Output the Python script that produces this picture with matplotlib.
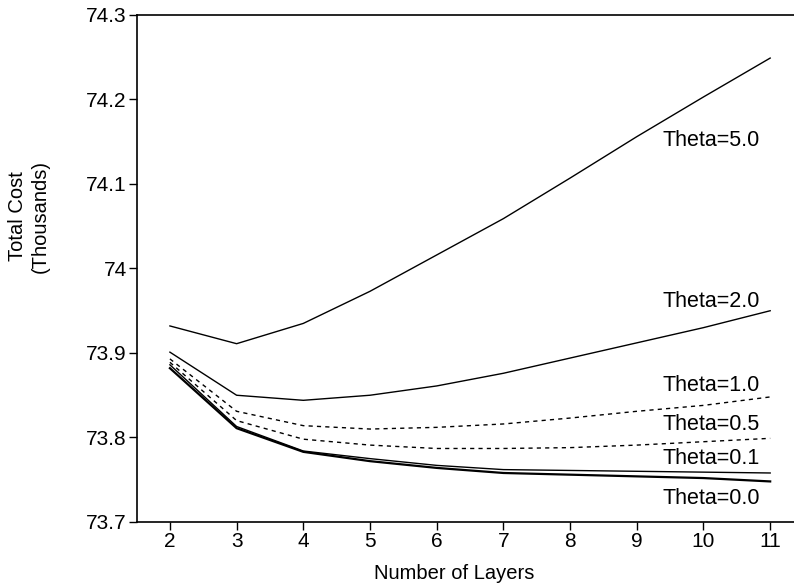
import numpy as np
import matplotlib
matplotlib.use("Agg")
import matplotlib.pyplot as plt

plt.rcParams['font.family'] = ['Liberation Sans', 'DejaVu Sans']

layers = [2, 3, 4, 5, 6, 7, 8, 9, 10, 11]
theta_names = ["Theta=5.0", "Theta=2.0", "Theta=1.0", "Theta=0.5", "Theta=0.1", "Theta=0.0"]
theta_5 = [73.932, 73.911, 73.935, 73.973, 74.016, 74.059, 74.107, 74.156, 74.203, 74.249]
theta_2 = [73.901, 73.850, 73.844, 73.850, 73.861, 73.876, 73.894, 73.912, 73.930, 73.950]
theta_1 = [73.893, 73.831, 73.814, 73.810, 73.812, 73.816, 73.823, 73.831, 73.838, 73.848]
theta_05 = [73.889, 73.820, 73.798, 73.791, 73.787, 73.787, 73.788, 73.791, 73.795, 73.799]
theta_01 = [73.886, 73.813, 73.784, 73.775, 73.767, 73.762, 73.761, 73.760, 73.759, 73.758]
theta_0 = [73.882, 73.811, 73.783, 73.772, 73.764, 73.758, 73.756, 73.754, 73.752, 73.748]
y_ticks = [73.7, 73.8, 73.9, 74.0, 74.1, 74.2, 74.3]
y_tick_labels = ["73.7", "73.8", "73.9", "74", "74.1", "74.2", "74.3"]

series = [theta_5, theta_2, theta_1, theta_05, theta_01, theta_0]
styles = [
    dict(ls="-", lw=1.0),
    dict(ls="-", lw=1.0),
    dict(ls=(0, (3, 3)), lw=1.0),
    dict(ls=(0, (3, 3)), lw=1.0),
    dict(ls="-", lw=1.0),
    dict(ls="-", lw=1.6),
]
# where the curve names sit (right aligned)
label_y = [74.152, 73.961, 73.862, 73.815, 73.775, 73.728]

fig = plt.figure(figsize=(7.94, 5.85), dpi=100)
ax = fig.add_axes([0.172, 0.1077, 0.84, 0.8667])

for vals, st in zip(series, styles):
    ax.plot(layers, vals, color="black", **st)

for name, ly in zip(theta_names, label_y):
    ax.text(10.85, ly, name, ha="right", va="center", fontsize=15.5)

ax.set_xlim(1.5, 11.5)
ax.set_ylim(73.7, 74.3)
ax.set_xticks(layers)
ax.set_yticks(y_ticks)
ax.set_yticklabels(y_tick_labels)
ax.tick_params(labelsize=15, length=6, width=1, pad=1, direction="out")
ax.spines["right"].set_visible(False)
for s in ["left", "bottom", "top"]:
    ax.spines[s].set_linewidth(1.2)

ax.set_xlabel("Number of Layers", fontsize=14.5)
ax.xaxis.set_label_coords(0.476, -0.083)
fig.text(0.022, 0.63, "Total Cost", rotation=90, ha="center", va="center", fontsize=14.5)
fig.text(0.051, 0.63, "(Thousands)", rotation=90, ha="center", va="center", fontsize=14.5)

fig.savefig("out.png", dpi=100)
